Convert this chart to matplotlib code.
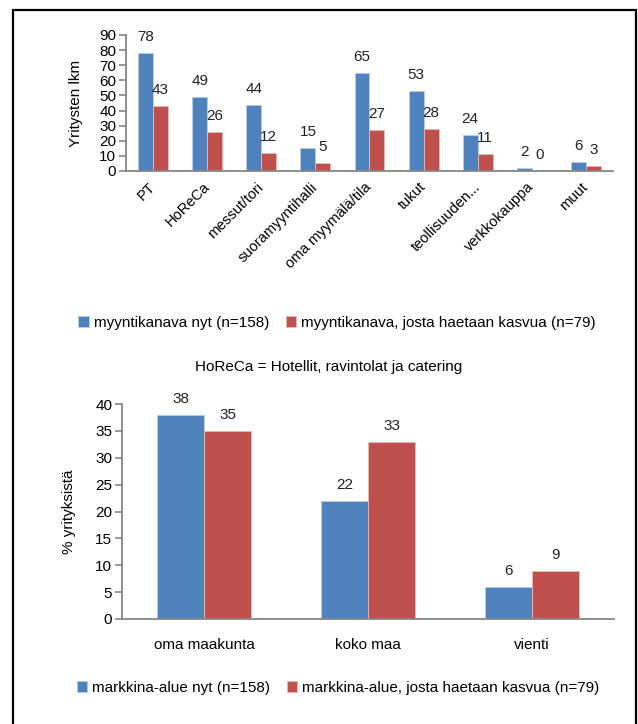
import matplotlib

matplotlib.use("Agg")
import matplotlib.pyplot as plt
from matplotlib.patches import Rectangle

plt.rcParams["font.family"] = ["Liberation Sans", "DejaVu Sans"]

BLUE = "#4F81BD"
RED = "#C0504D"
AXIS = "#868686"

# top chart: sales channels
channels = ["PT", "HoReCa", "messut/tori", "suoramyyntihalli", "oma myymälä/tila",
            "tukut", "teollisuuden...", "verkkokauppa", "muut"]
channel_now = [78, 49, 44, 15, 65, 53, 24, 2, 6]
channel_growth = [43, 26, 12, 5, 27, 28, 11, 0, 3]
channel_labels = ["myyntikanava nyt (n=158)",
                  "myyntikanava, josta haetaan kasvua (n=79)"]

# bottom chart: market areas
areas = ["oma maakunta", "koko maa", "vienti"]
area_now = [38, 22, 6]
area_growth = [35, 33, 9]
area_labels = ["markkina-alue nyt (n=158)",
               "markkina-alue, josta haetaan kasvua (n=79)"]

W, H = 638, 724
fig = plt.figure(figsize=(W / 100, H / 100), dpi=100)


def px_axes(left, top, right, bottom):
    return fig.add_axes([left / W, 1 - bottom / H, (right - left) / W, (bottom - top) / H])


def style(ax, ymax, step):
    for s in ("top", "right"):
        ax.spines[s].set_visible(False)
    for s in ("left", "bottom"):
        ax.spines[s].set_color(AXIS)
        ax.spines[s].set_linewidth(1.3)
    ax.set_ylim(0, ymax)
    ax.set_yticks(range(0, ymax + 1, step))
    ax.tick_params(axis="y", length=5, color=AXIS, width=1.2, pad=2, labelsize=11)
    ax.tick_params(axis="x", length=0)


def bars(ax, cats, a, b, width):
    x = range(len(cats))
    ba = ax.bar([i - width / 2 for i in x], a, width, color=BLUE,
                edgecolor="#B9CDE5", linewidth=0.6)
    bb = ax.bar([i + width / 2 for i in x], b, width, color=RED,
                edgecolor="#E6B9B8", linewidth=0.6)
    for cont in (ba, bb):
        for rect in cont:
            v = rect.get_height()
            ax.annotate(f"{v:g}", (rect.get_x() + rect.get_width() / 2, v),
                        xytext=(0, 11.5), textcoords="offset points",
                        ha="center", va="center", fontsize=11, color="#222222")
    ax.set_xlim(-0.5, len(cats) - 0.5)
    ax.set_xticks(list(x))
    return ba, bb


# top
ax1 = px_axes(126, 35, 613, 171)
style(ax1, 90, 10)
h1 = bars(ax1, channels, channel_now, channel_growth, 0.277)
ax1.set_xticklabels(channels, rotation=45, ha="right", va="center",
                    rotation_mode="anchor", fontsize=10.5)
ax1.tick_params(axis="x", pad=10)
ax1.set_ylabel("Yritysten lkm", fontsize=11, labelpad=12)
fig.legend(h1, channel_labels, loc="center", bbox_to_anchor=(337 / W, 1 - 323 / H),
           ncol=2, frameon=False, fontsize=11, handlelength=0.7, handleheight=0.7,
           handletextpad=0.3, columnspacing=1.1)
fig.text(329 / W, 1 - 367 / H, "HoReCa = Hotellit, ravintolat ja catering",
         ha="center", va="center", fontsize=11)

# bottom
ax2 = px_axes(122, 404, 614, 619)
style(ax2, 40, 5)
h2 = bars(ax2, areas, area_now, area_growth, 0.287)
ax2.set_xticklabels(areas, fontsize=11)
ax2.tick_params(axis="x", pad=14)
ax2.set_ylabel("% yrityksistä", fontsize=11, labelpad=14)
fig.legend(h2, area_labels, loc="center", bbox_to_anchor=(338 / W, 1 - 688 / H),
           ncol=2, frameon=False, fontsize=11, handlelength=0.7, handleheight=0.7,
           handletextpad=0.3, columnspacing=1.1)

# outer frame
fig.patches.append(Rectangle((13 / W, -0.05), (636 - 13) / W, 1.05 - 10 / H,
                             transform=fig.transFigure, fill=False,
                             edgecolor="black", linewidth=1.6))

fig.savefig("out.png", dpi=100)
